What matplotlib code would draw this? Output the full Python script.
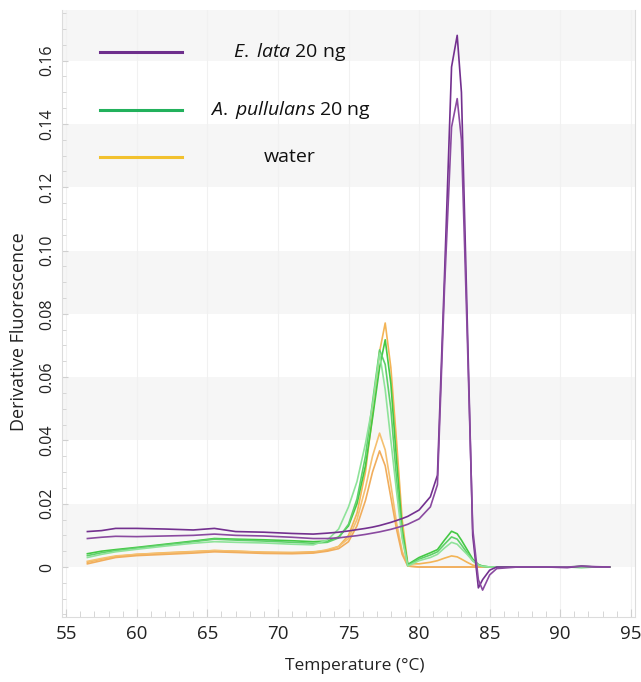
import matplotlib
matplotlib.use("Agg")
import matplotlib.pyplot as plt
from matplotlib.ticker import MultipleLocator, FuncFormatter
from matplotlib.lines import Line2D

plt.rcParams['font.family'] = ['Open Sans', 'DejaVu Sans']
plt.rcParams['mathtext.fontset'] = 'custom'
plt.rcParams['mathtext.rm'] = 'Open Sans'
plt.rcParams['mathtext.it'] = 'Open Sans:italic'

# Temperature grid (°C)
temp = [56.5, 57.5, 58.5, 60, 62, 64, 65.5, 67, 69, 71, 72.5, 73.5, 74.3, 75.0, 75.6,
        76.2, 76.7, 77.2, 77.6, 78.0, 78.4, 78.8, 79.2, 80.0, 80.8, 81.3, 81.8, 82.3,
        82.7, 83.0, 83.4, 83.8, 84.2, 84.5, 85.0, 85.5, 87.0, 89.0, 90.5, 91.5, 92.5, 93.5]

# E. lata 20 ng (purple)
elata_1 = [0.0112, 0.0115, 0.0122, 0.0122, 0.0120, 0.0117, 0.0122, 0.0112, 0.0110, 0.0106,
           0.0104, 0.0107, 0.0110, 0.0114, 0.0118, 0.0122, 0.0126, 0.0131, 0.0136, 0.0141,
           0.0147, 0.0153, 0.0160, 0.0180, 0.0222, 0.0290, 0.0920, 0.1580, 0.1680, 0.1500,
           0.0800, 0.0100, -0.0066, -0.0040, -0.0010, 0.0000, 0.0000, 0.0000, -0.0002,
           0.0003, 0.0001, 0.0000]
elata_2 = [0.0090, 0.0094, 0.0097, 0.0096, 0.0098, 0.0100, 0.0104, 0.0100, 0.0098, 0.0094,
           0.0090, 0.0090, 0.0092, 0.0096, 0.0099, 0.0103, 0.0107, 0.0111, 0.0115, 0.0119,
           0.0124, 0.0129, 0.0135, 0.0152, 0.0190, 0.0260, 0.0880, 0.1390, 0.1480, 0.1350,
           0.0750, 0.0120, -0.0040, -0.0073, -0.0025, -0.0005, 0.0000, 0.0000, 0.0000,
           0.0002, 0.0000, 0.0000]

# A. pullulans 20 ng (green)
apul_1 = [0.0042, 0.0050, 0.0055, 0.0062, 0.0072, 0.0082, 0.0090, 0.0088, 0.0086, 0.0083,
          0.0080, 0.0082, 0.0095, 0.0130, 0.0200, 0.0320, 0.0470, 0.0630, 0.0718, 0.0580,
          0.0340, 0.0120, 0.0008, 0.0030, 0.0045, 0.0055, 0.0085, 0.0113, 0.0105, 0.0085,
          0.0055, 0.0025, 0.0008, 0.0003, 0.0000, 0.0000, 0.0000, 0.0000, 0.0000, 0.0002,
          0.0000, 0.0000]
apul_2 = [0.0036, 0.0045, 0.0052, 0.0060, 0.0070, 0.0080, 0.0088, 0.0085, 0.0082, 0.0078,
          0.0075, 0.0078, 0.0092, 0.0135, 0.0215, 0.0350, 0.0520, 0.0686, 0.0640, 0.0500,
          0.0280, 0.0100, 0.0005, 0.0025, 0.0038, 0.0048, 0.0072, 0.0095, 0.0088, 0.0070,
          0.0045, 0.0020, 0.0006, 0.0002, 0.0000, 0.0000, 0.0000, 0.0000, 0.0000, -0.0002,
          0.0000, 0.0000]
apul_3 = [0.0030, 0.0040, 0.0048, 0.0056, 0.0066, 0.0075, 0.0080, 0.0078, 0.0076, 0.0072,
          0.0070, 0.0085, 0.0120, 0.0190, 0.0270, 0.0390, 0.0510, 0.0676, 0.0560, 0.0400,
          0.0240, 0.0090, 0.0003, 0.0020, 0.0030, 0.0040, 0.0060, 0.0078, 0.0072, 0.0058,
          0.0040, 0.0020, 0.0006, 0.0002, 0.0000, 0.0000, 0.0000, 0.0000, 0.0000, 0.0000,
          0.0000, 0.0000]

# water (orange / yellow)
water_1 = [0.0015, 0.0025, 0.0033, 0.0040, 0.0045, 0.0049, 0.0052, 0.0050, 0.0047, 0.0046,
           0.0048, 0.0052, 0.0065, 0.0100, 0.0170, 0.0300, 0.0480, 0.0680, 0.0771, 0.0630,
           0.0400, 0.0150, 0.0010, 0.0010, 0.0015, 0.0020, 0.0028, 0.0035, 0.0032, 0.0025,
           0.0015, 0.0006, 0.0002, 0.0000, 0.0000, 0.0000, 0.0000, 0.0000, 0.0000, 0.0000,
           0.0000, 0.0000]
water_2 = [0.0018, 0.0027, 0.0035, 0.0040, 0.0044, 0.0048, 0.0052, 0.0050, 0.0046, 0.0044,
           0.0046, 0.0055, 0.0065, 0.0090, 0.0150, 0.0250, 0.0350, 0.0423, 0.0370, 0.0260,
           0.0140, 0.0050, 0.0003, 0.0000, 0.0000, 0.0000, 0.0000, 0.0000, 0.0000, 0.0000,
           0.0000, 0.0000, 0.0000, 0.0000, 0.0000, 0.0000, 0.0000, 0.0000, 0.0000, 0.0000,
           0.0000, 0.0000]
water_3 = [0.0010, 0.0020, 0.0030, 0.0036, 0.0040, 0.0044, 0.0048, 0.0046, 0.0043, 0.0042,
           0.0044, 0.0050, 0.0058, 0.0080, 0.0130, 0.0210, 0.0300, 0.0367, 0.0320, 0.0220,
           0.0120, 0.0040, 0.0003, 0.0000, 0.0000, 0.0000, 0.0000, 0.0000, 0.0000, 0.0000,
           0.0000, 0.0000, 0.0000, 0.0000, 0.0000, 0.0000, 0.0000, 0.0000, 0.0000, 0.0000,
           0.0000, 0.0000]

legend_labels = [r"$\mathit{E.}\;\mathit{lata}$ 20 ng", r"$\mathit{A.}\;\mathit{pullulans}$ 20 ng", "water"]
legend_colors = ["#6e2f8c", "#22b15c", "#f2c12e"]

y_ticks = [0, 0.02, 0.04, 0.06, 0.08, 0.10, 0.12, 0.14, 0.16]
x_ticks = [55, 60, 65, 70, 75, 80, 85, 90, 95]

fig = plt.figure(figsize=(6.41, 6.82), dpi=100)
ax = fig.add_axes([0.0967, 0.0953, 0.894, 0.890])

ax.set_xlim(54.7, 95.3)
ax.set_ylim(-0.0158, 0.176)

# alternating bands
for lo in [0.0, 0.04, 0.08, 0.12, 0.16]:
    ax.axhspan(lo, lo + 0.02, color="#f6f6f6", zorder=0, lw=0)
for xv in x_ticks:
    ax.axvline(xv, color="#f1f1f1", lw=0.8, zorder=0.5)

series = [
    (water_1, "#f3b456"), (water_2, "#f5c070"), (water_3, "#f1ad5c"),
    (apul_1, "#44c944"), (apul_2, "#5fd06a"), (apul_3, "#8fe39a"),
    (elata_1, "#73308f"), (elata_2, "#8a4aa0"),
]
for ys, c in series:
    ax.plot(temp, ys, color=c, lw=1.2, zorder=3)

# axes styling
for s in ["left", "bottom", "right"]:
    ax.spines[s].set_color("#dcdcdc")
ax.spines["top"].set_visible(False)
ax.set_xticks(x_ticks)
ax.set_yticks(y_ticks)
ax.yaxis.set_major_formatter(FuncFormatter(lambda v, p: "0" if abs(v) < 1e-9 else f"{v:.2f}"))
ax.xaxis.set_minor_locator(MultipleLocator(1))
ax.yaxis.set_minor_locator(MultipleLocator(0.005))
ax.tick_params(axis="both", which="both", direction="in", color="#d0d0d0")
ax.tick_params(axis="x", which="major", length=6, labelsize=13.5, pad=6, labelcolor="#222222")
ax.tick_params(axis="x", which="minor", length=4)
ax.tick_params(axis="y", which="major", length=4, labelsize=11.5, pad=5, labelcolor="#222222")
ax.tick_params(axis="y", which="minor", length=3)
for lab in ax.get_yticklabels():
    lab.set_rotation(90)
    lab.set_va("center")

ax.set_xlabel("Temperature (°C)", fontsize=12.5, color="#222222")
ax.set_ylabel("Derivative Fluorescence", fontsize=13, color="#222222")
ax.xaxis.set_label_coords(0.511, -0.068)
ax.yaxis.set_label_coords(-0.059, 0.47)

# legend (manual, centered text)
leg_y = [0.9308, 0.8353, 0.7578]
for lab, col, yy in zip(legend_labels, legend_colors, leg_y):
    ax.add_line(Line2D([0.0663, 0.2094], [yy, yy], transform=ax.transAxes,
                       color=col, lw=2.2, zorder=5))
    ax.text(0.398, yy, lab, transform=ax.transAxes, ha="center", va="center",
            fontsize=14, color="#111111", zorder=5)

fig.savefig("out.png", dpi=100)
